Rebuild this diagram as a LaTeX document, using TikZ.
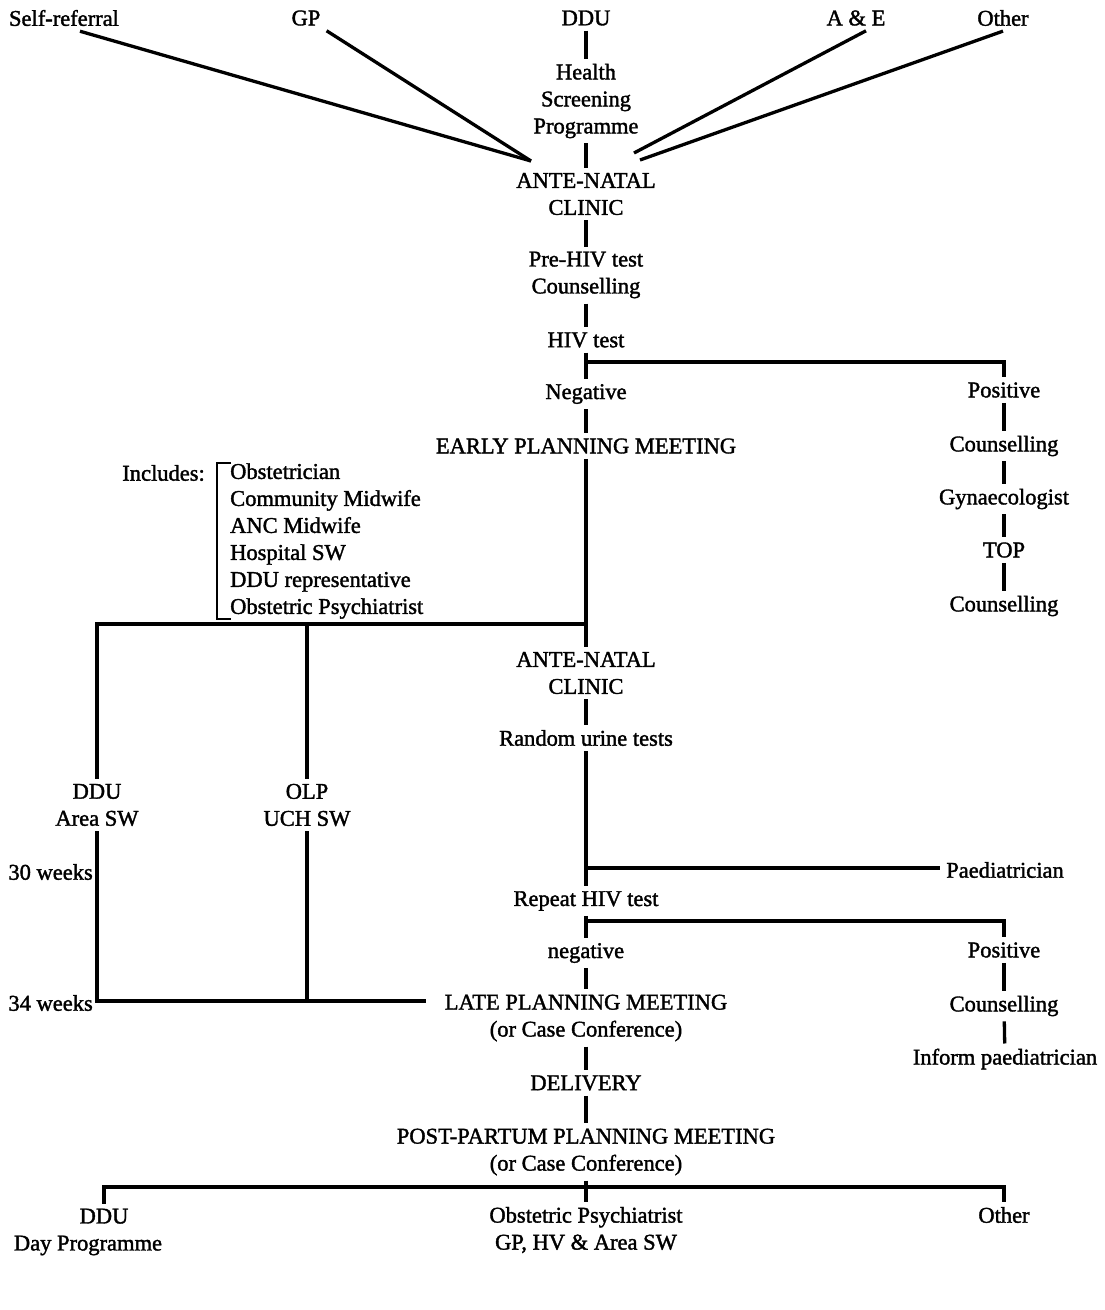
\documentclass[tikz,border=0pt]{standalone}
\usepackage{fontspec}
\setmainfont[FakeBold=1.6]{Liberation Serif}
\begin{document}
\begin{tikzpicture}[x=1pt,y=-1pt,
  every node/.style={font=\fontsize{22.5}{27}\selectfont, inner xsep=6pt, inner ysep=5pt, align=center},
  conn/.style={line width=3.3pt}]
\useasboundingbox (0,0) rectangle (1104,1310);
% top row
\node (sr) at (64,18) {Self-referral};
\node (gp) at (306,18) {GP};
\node (ddu) at (586,18) {DDU};
\node (ae) at (856,18) {A \& E};
\node (oth) at (1003,18) {Other};
\node (hsp) at (586,101) {Health\\Screening\\Programme};
\node (anc1) at (586,194) {ANTE-NATAL\\CLINIC};
\node (pre) at (586,275) {Pre-HIV test\\Counselling};
\node (hiv) at (586,340) {HIV test};
\node (neg) at (586,394) {Negative};
\node (pos1) at (1004,390) {Positive};
\node (epm) at (586,446) {EARLY PLANNING MEETING};
\node (c1) at (1004,446) {Counselling};
\node (gyn) at (1004,499) {Gynaecologist};
\node (top) at (1004,550) {TOP};
\node (c2) at (1004,606) {Counselling};
\node[anchor=east] (incl) at (211,473) {Includes:};
\node[anchor=west, align=left] (mem) at (224,541) {Obstetrician\\Community Midwife\\ANC Midwife\\Hospital SW\\DDU representative\\Obstetric Psychiatrist};
\node (anc2) at (586,673) {ANTE-NATAL\\CLINIC};
\node (rut) at (586,738) {Random urine tests};
\node (dduA) at (97,805) {DDU\\Area SW};
\node (olp) at (307,805) {OLP\\UCH SW};
\node (paed) at (1005,870) {Paediatrician};
\node[anchor=east] (w30) at (99,872) {30 weeks};
\node[anchor=east] (w34) at (99,1003) {34 weeks};
\node (rhiv) at (586,901) {Repeat HIV test};
\node (neg2) at (586,953) {negative};
\node (pos2) at (1004,950) {Positive};
\node (lpm) at (586,1018) {LATE PLANNING MEETING\\(or Case Conference)};
\node (c3) at (1004,1006) {Counselling};
\node (inf) at (1005,1059) {Inform paediatrician};
\node (del) at (586,1083) {DELIVERY};
\node (ppm) at (586,1152) {POST-PARTUM PLANNING MEETING\\(or Case Conference)};
\node (ddu3) at (88,1232) {\hspace*{32pt}DDU\\Day Programme};
\node (ob) at (586,1230) {Obstetric Psychiatrist\\GP, HV \& Area SW};
\node (oth2) at (1004,1215) {Other};
% junction coordinates
\coordinate (jl) at (531,161);
\coordinate (jr1) at (634,153);
\coordinate (jr2) at (640,160);
\coordinate (b1) at (586,362);
\coordinate (b2) at (586,624);
\coordinate (b3) at (586,868);
\coordinate (b4) at (586,921);
\coordinate (b5) at (426,1001);
\coordinate (b6) at (586,1187);
% fan-in
\draw[conn] ([xshift=16]sr.south) -- (jl);
\draw[conn] (gp.south east) -- (jl);
\draw[conn] ([xshift=10]ae.south) -- (jr1);
\draw[conn] (oth.south) -- (jr2);
% main spine
\draw[conn] (ddu) -- (hsp);
\draw[conn] (hsp) -- (anc1);
\draw[conn] (anc1) -- (pre);
\draw[conn] (pre) -- (hiv);
\draw[conn] (hiv) -- (neg);
\draw[conn] (b1) -| (pos1);
\draw[conn] (neg) -- (epm);
\draw[conn] (epm) -- (anc2);
\draw[conn] (b2) -| (dduA);
\draw[conn] (olp.north |- b2) -- (olp);
% positive branch
\draw[conn] (pos1) -- (c1);
\draw[conn] (c1) -- (gyn);
\draw[conn] (gyn) -- (top);
\draw[conn] (top) -- (c2);
% bracket
\draw[line width=2.8pt] ([shift={(7,5)}]mem.north west) -- ([shift={(-7,5)}]mem.north west) -- ([shift={(-7,-5)}]mem.south west) -- ([shift={(7,-5)}]mem.south west);
% lower spine
\draw[conn] (anc2) -- (rut);
\draw[conn] (rut) -- (rhiv);
\draw[conn] (b3) -- (b3 -| paed.west);
\draw[conn] (rhiv) -- (neg2);
\draw[conn] (b4) -| (pos2);
\draw[conn] (neg2) -- (lpm);
\draw[conn] (pos2) -- (c3);
\draw[conn] (c3) -- (inf);
\draw[conn] (dduA) |- (b5);
\draw[conn] (olp) -- (olp |- b5);
\draw[conn] (lpm) -- (del);
\draw[conn] (del) -- (ppm);
\draw[conn] (ppm) -- (ob);
\draw[conn] ([xshift=16]ddu3.north) |- (oth2.north |- b6) -- (oth2.north);
\end{tikzpicture}
\end{document}
